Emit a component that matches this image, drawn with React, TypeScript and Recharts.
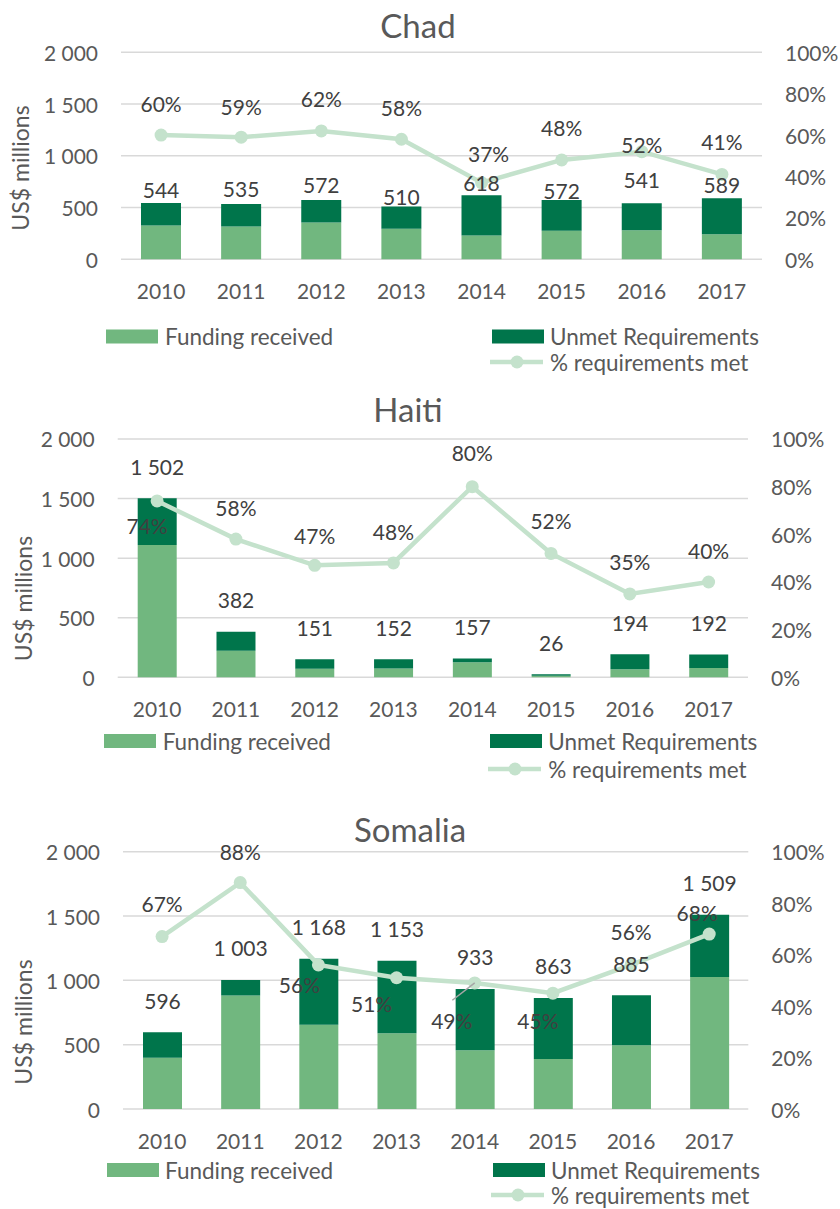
import React from 'react';
import { ComposedChart, Bar, Line, XAxis, YAxis, CartesianGrid, LabelList } from 'recharts';

// ---------- data ----------
const years = ['2010', '2011', '2012', '2013', '2014', '2015', '2016', '2017'];

const chadTotal = [544, 535, 572, 510, 618, 572, 541, 589];
const chadFunding = [326, 316, 355, 296, 229, 275, 281, 241];
const chadUnmet = [218, 219, 217, 214, 389, 297, 260, 348];
const chadPct = [0.6, 0.59, 0.62, 0.58, 0.37, 0.48, 0.52, 0.41];

const haitiTotal = [1502, 382, 151, 152, 157, 26, 194, 192];
const haitiFunding = [1111, 222, 71, 73, 126, 14, 68, 77];
const haitiUnmet = [391, 160, 80, 79, 31, 12, 126, 115];
const haitiPct = [0.74, 0.58, 0.47, 0.48, 0.8, 0.52, 0.35, 0.4];

const somaliaTotal = [596, 1003, 1168, 1153, 933, 863, 885, 1509];
const somaliaFunding = [399, 883, 654, 588, 457, 388, 496, 1026];
const somaliaUnmet = [197, 120, 514, 565, 476, 475, 389, 483];
const somaliaPct = [0.67, 0.88, 0.56, 0.51, 0.49, 0.45, 0.56, 0.68];

const leftTicks = [0, 500, 1000, 1500, 2000];
const leftTickLabels = ['0', '500', '1 000', '1 500', '2 000'];
const rightTicks = [0, 0.2, 0.4, 0.6, 0.8, 1];
const rightTickLabels = ['0%', '20%', '40%', '60%', '80%', '100%'];

const seriesNames = ['Funding received', 'Unmet Requirements', '% requirements met'];
const yAxisTitle = 'US$ millions';

// ---------- styles ----------
const FONT = 'Lato, "Open Sans", sans-serif';
const LIGHT = '#71B77F';
const DARK = '#00754B';
const LINE = '#C4E2CC';
const GRID = '#D9D9D9';
const AXIS_TEXT = '#595959';
const LABEL_TEXT = '#404040';

const panels = [
  { title: 'Chad', total: chadTotal, funding: chadFunding, unmet: chadUnmet, pct: chadPct },
  { title: 'Haiti', total: haitiTotal, funding: haitiFunding, unmet: haitiUnmet, pct: haitiPct },
  { title: 'Somalia', total: somaliaTotal, funding: somaliaFunding, unmet: somaliaUnmet, pct: somaliaPct },
];

const layouts = [
  {
    panelTop: 0, plotTop: 52.3, plotBottom: 259.3, plotLeft: 121, plotRight: 762, barSize: 40,
    titleX: 418, titleY: 38, yLabelX: 20, yLabelY: 168,
    legendY1: 336.5, legendY2: 362, fundSwatchX: 106, unmetSwatchX: 492, fundTextX: 165, unmetTextX: 550,
    totalLift: [13, 15, 16, 10, 13, 10, 24, 14],
    pctLift: [32, 31, 32, 32, 29, 32, 7, 33],
    pctDx: [0, 0, 0, 0, 7, 0, 0, 0],
    leader: -1,
  },
  {
    panelTop: 390, plotTop: 439, plotBottom: 677.3, plotLeft: 117.7, plotRight: 748, barSize: 39,
    titleX: 408, titleY: 422, yLabelX: 22.7, yLabelY: 598.5,
    legendY1: 741, legendY2: 769, fundSwatchX: 104, unmetSwatchX: 490, fundTextX: 162.7, unmetTextX: 548.3,
    totalLift: [32, 32, 32, 32, 32, 32, 32, 32],
    pctLift: [-25, 32, 30, 31, 34, 33, 32, 31],
    pctDx: [-10, 0, 0, 0, 0, 0, 0, 0],
    leader: -1,
  },
  {
    panelTop: 800, plotTop: 851.7, plotBottom: 1109, plotLeft: 123, plotRight: 748.3, barSize: 39,
    titleX: 410, titleY: 842, yLabelX: 23, yLabelY: 1022,
    legendY1: 1170, legendY2: 1195, fundSwatchX: 107, unmetSwatchX: 493, fundTextX: 165, unmetTextX: 551,
    totalLift: [32, 32, 32, 32, 32, 32, 32, 32],
    pctLift: [33, 31, -20, -26, -38, -27, 33, 22],
    pctDx: [0, 0, -19, -25, -23, -15, 0, -12],
    leader: 4,
  },
];

const fmtThousands = (v: number) => {
  const s = String(v);
  return s.length > 3 ? s.slice(0, s.length - 3) + ' ' + s.slice(s.length - 3) : s;
};

function Panel({ p, l }: { p: typeof panels[number]; l: typeof layouts[number] }) {
  const data = years.map((y, i) => ({
    year: y,
    funding: p.funding[i],
    unmet: p.unmet[i],
    total: p.total[i],
    pct: p.pct[i],
  }));
  const chartH = l.plotBottom - l.panelTop + 50;
  const plotBottomRel = l.plotBottom - l.panelTop;

  const xTick = (props: any) => (
    <text x={props.x} y={plotBottomRel + 31} textAnchor="middle" dominantBaseline="central"
      fontFamily={FONT} fontSize={21} fill={AXIS_TEXT}>
      {props.payload.value}
    </text>
  );
  const leftTick = (props: any) => {
    const idx = leftTicks.indexOf(props.payload.value);
    return (
      <text x={l.plotLeft - 23} y={props.y} textAnchor="end" dominantBaseline="central"
        fontFamily={FONT} fontSize={21} fill={AXIS_TEXT}>
        {idx >= 0 ? leftTickLabels[idx] : props.payload.value}
      </text>
    );
  };
  const rightTick = (props: any) => {
    const idx = rightTicks.findIndex((t) => Math.abs(t - props.payload.value) < 1e-6);
    return (
      <text x={l.plotRight + 23} y={props.y} textAnchor="start" dominantBaseline="central"
        fontFamily={FONT} fontSize={21} fill={AXIS_TEXT}>
        {idx >= 0 ? rightTickLabels[idx] : props.payload.value}
      </text>
    );
  };

  const totalLabel = (props: any) => {
    const i = props.index ?? 0;
    const cx = Number(props.x) + Number(props.width) / 2;
    const cy = Number(props.y) - l.totalLift[i];
    return (
      <text x={cx} y={cy} textAnchor="middle" dominantBaseline="central"
        fontFamily={FONT} fontSize={21} fill={LABEL_TEXT}>
        {fmtThousands(Number(props.value))}
      </text>
    );
  };

  const pctLabel = (props: any) => {
    const i = props.index ?? 0;
    const px = Number(props.x);
    const py = Number(props.y);
    const cx = px + l.pctDx[i];
    const cy = py - l.pctLift[i];
    return (
      <g>
        {i === l.leader ? (
          <line x1={cx + 0.6} y1={cy - 20.7} x2={px} y2={py} stroke="#A6A6A6" strokeWidth={1.5} />
        ) : null}
        <text x={cx} y={cy} textAnchor="middle" dominantBaseline="central"
          fontFamily={FONT} fontSize={21} fill={LABEL_TEXT}>
          {Math.round(Number(props.value) * 100) + '%'}
        </text>
      </g>
    );
  };

  return (
    <div style={{ position: 'absolute', left: 0, top: l.panelTop, width: 840, height: chartH }}>
      <ComposedChart width={840} height={chartH} data={data}
        margin={{ top: l.plotTop - l.panelTop, right: 0, bottom: 0, left: 0 }}>
        <CartesianGrid yAxisId="left" vertical={false} stroke={GRID} strokeWidth={1.5} />
        <XAxis dataKey="year" height={50} axisLine={false} tickLine={false} tick={xTick} interval={0} />
        <YAxis yAxisId="left" width={l.plotLeft} domain={[0, 2000]} ticks={leftTicks}
          axisLine={false} tickLine={false} tick={leftTick} interval={0} />
        <YAxis yAxisId="right" orientation="right" width={840 - l.plotRight} domain={[0, 1]}
          ticks={rightTicks} axisLine={false} tickLine={false} tick={rightTick} interval={0} />
        <Bar yAxisId="left" dataKey="funding" stackId="a" fill={LIGHT} barSize={l.barSize}
          isAnimationActive={false} />
        <Bar yAxisId="left" dataKey="unmet" stackId="a" fill={DARK} barSize={l.barSize}
          isAnimationActive={false}>
          <LabelList dataKey="total" content={totalLabel} />
        </Bar>
        <Line yAxisId="right" dataKey="pct" type="linear" stroke={LINE} strokeWidth={4.5}
          dot={{ r: 6.5, fill: LINE, stroke: LINE, strokeWidth: 0 }} activeDot={false}
          isAnimationActive={false}>
          <LabelList dataKey="pct" content={pctLabel} />
        </Line>
      </ComposedChart>
    </div>
  );
}

function Overlay() {
  return (
    <svg width={840} height={1209} style={{ position: 'absolute', left: 0, top: 0, pointerEvents: 'none' }}>
      {panels.map((p, k) => {
        const l = layouts[k];
        return (
          <g key={p.title}>
            <text x={l.titleX} y={l.titleY} textAnchor="middle" fontFamily={FONT} fontSize={33} fill={AXIS_TEXT}>
              {p.title}
            </text>
            <text x={l.yLabelX} y={l.yLabelY} textAnchor="middle" dominantBaseline="central"
              transform={`rotate(-90 ${l.yLabelX} ${l.yLabelY})`} fontFamily={FONT} fontSize={23} fill={AXIS_TEXT}>
              {yAxisTitle}
            </text>
            <rect x={l.fundSwatchX} y={l.legendY1 - 7} width={52} height={14} fill={LIGHT} />
            <text x={l.fundTextX} y={l.legendY1} dominantBaseline="central" fontFamily={FONT} fontSize={22.5} fill={AXIS_TEXT}>
              {seriesNames[0]}
            </text>
            <rect x={l.unmetSwatchX} y={l.legendY1 - 7} width={52} height={14} fill={DARK} />
            <text x={l.unmetTextX} y={l.legendY1} dominantBaseline="central" fontFamily={FONT} fontSize={22.5} fill={AXIS_TEXT}>
              {seriesNames[1]}
            </text>
            <line x1={l.unmetSwatchX - 2} y1={l.legendY2} x2={l.unmetSwatchX + 51} y2={l.legendY2} stroke={LINE} strokeWidth={4.5} />
            <circle cx={l.unmetSwatchX + 25} cy={l.legendY2} r={6.5} fill={LINE} />
            <text x={l.unmetTextX} y={l.legendY2} dominantBaseline="central" fontFamily={FONT} fontSize={22.5} fill={AXIS_TEXT}>
              {seriesNames[2]}
            </text>
          </g>
        );
      })}
    </svg>
  );
}

export default function App() {
  return (
    <div style={{ position: 'absolute', left: 0, top: 0, width: 840, height: 1209, background: '#fff', overflow: 'hidden' }}>
      {panels.map((p, k) => (
        <Panel key={p.title} p={p} l={layouts[k]} />
      ))}
      <Overlay />
    </div>
  );
}
